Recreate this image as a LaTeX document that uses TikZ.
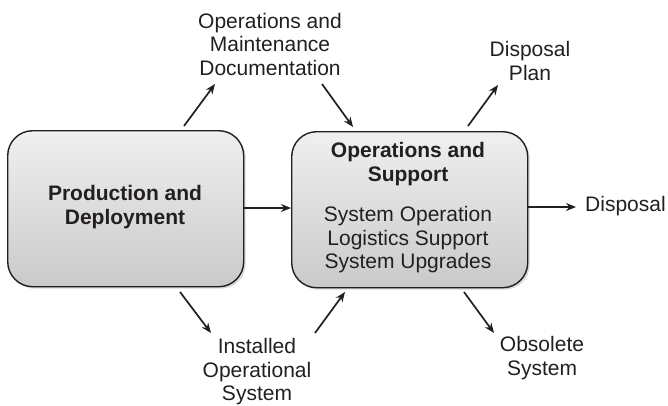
\documentclass[tikz,border=0pt]{standalone}
\usepackage{fontspec}
\setmainfont{Liberation Sans}
\usetikzlibrary{arrows.meta,shadows}
\definecolor{ink}{HTML}{231F20}
\begin{document}
\begin{tikzpicture}[x=1pt,y=-1pt,
  box/.style={draw=ink,line width=1.4pt,rounded corners=25pt,
    top color=gray!12,bottom color=gray!42,
    drop shadow={shadow xshift=2pt,shadow yshift=-2pt,fill=gray!60,opacity=0.5},
    minimum width=236pt,minimum height=156pt,anchor=north west,inner sep=0pt},
  lbl/.style={font=\fontsize{21pt}{23.5pt}\selectfont,text=ink,align=center,inner sep=0pt},
  blbl/.style={lbl,font=\fontsize{21pt}{23.5pt}\selectfont\bfseries},
  arr/.style={draw=ink,line width=1.7pt,-{Stealth[length=10pt,width=8pt]}}]
\useasboundingbox (0,0) rectangle (668,405);
\node[box] (pd) at (7,130) {};
\node[box] (os) at (291,131) {};
\node[blbl] (pdt) at (125,207) {Production and\\Deployment};
\node[blbl] (ost) at (408,164) {Operations and\\Support};
\node[lbl] (osl) at (408,240) {System Operation\\Logistics Support\\System Upgrades};
\node[lbl] (omd) at (270,44) {Operations and\\Maintenance\\Documentation};
\node[lbl] (dpl) at (530,61) {Disposal\\Plan};
\node[lbl,anchor=west] (dis) at (585,206) {Disposal};
\node[lbl] (ios) at (257,372) {Installed\\Operational\\System};
\node[lbl] (obs) at (542,358) {Obsolete\\System};
\coordinate (a1s) at (184,126); \coordinate (a1e) at (215,84);
\coordinate (a2s) at (322,84);  \coordinate (a2e) at (353,127);
\coordinate (a3s) at (468,126); \coordinate (a3e) at (498,85);
\coordinate (a4s) at (527,207); \coordinate (a4e) at (576,207);
\coordinate (a5s) at (180,292); \coordinate (a5e) at (211,333);
\coordinate (a6s) at (315,333); \coordinate (a6e) at (345,292);
\coordinate (a7s) at (464,292); \coordinate (a7e) at (494,333);
\draw[arr] (pd.east |- 0,208) -- (os.west |- 0,208);
\draw[arr] (a1s) -- (a1e);
\draw[arr] (a2s) -- (a2e);
\draw[arr] (a3s) -- (a3e);
\draw[arr] (a4s) -- (a4e);
\draw[arr] (a5s) -- (a5e);
\draw[arr] (a6s) -- (a6e);
\draw[arr] (a7s) -- (a7e);
\end{tikzpicture}
\end{document}
